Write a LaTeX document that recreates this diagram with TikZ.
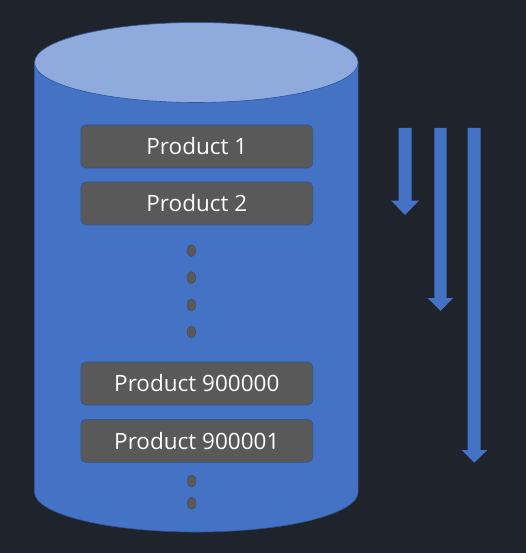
\documentclass[tikz,border=0pt]{standalone}
\usepackage{fontspec}
\setmainfont{Open Sans}
\usetikzlibrary{shapes.geometric}
\definecolor{bg}{HTML}{1F232C}
\definecolor{body}{HTML}{4472C4}
\definecolor{topc}{HTML}{8FAADC}
\definecolor{edge}{HTML}{2F5597}
\definecolor{boxc}{HTML}{595959}
\tikzset{
  prodbox/.style={draw=edge, line width=0.6pt, fill=boxc, rounded corners=5pt,
    minimum width=232pt, minimum height=43pt, inner sep=0pt,
    text=white, font=\fontsize{22.5}{26}\selectfont},
  dotmark/.style={ellipse, draw=boxc!80!black, line width=0.4pt, fill=boxc,
    minimum width=8.6pt, minimum height=12pt, inner sep=0pt},
  bigarrow/.style={fill=body, draw=none}
}
\begin{document}
\begin{tikzpicture}[x=1pt,y=-1pt]
\useasboundingbox (0,0) rectangle (526,553);
\fill[bg] (0,0) rectangle (526,553);
% cylinder body
\path[fill=body, draw=edge, line width=0.6pt]
  (34.5,62.5) -- (34.5,492) arc[start angle=180, end angle=360, x radius=161.8, y radius=-40]
  -- (358.1,62.5) -- cycle;
\node[ellipse, fill=topc, draw=edge, line width=0.6pt, minimum width=323.6pt, minimum height=80pt, inner sep=0pt] (top) at (196.3,62.5) {};
% products
\node[prodbox] (p1) at (196.8,146.5) {Product 1};
\node[prodbox] (p2) at (196.8,203.5) {Product 2};
\node[prodbox] (p3) at (196.8,383.5) {Product 900000};
\node[prodbox] (p4) at (196.8,440.8) {Product 900001};
% dots
\node[dotmark] (d1) at (191.3,250.7) {};
\node[dotmark] (d2) at (191.3,277.7) {};
\node[dotmark] (d3) at (191.3,305) {};
\node[dotmark] (d4) at (191.3,332) {};
\node[dotmark] (d5) at (191.7,481) {};
\node[dotmark] (d6) at (191.7,503.3) {};
% arrows
\fill[bigarrow] (398.5,128) -- (411.5,128) -- (411.5,200.5) -- (419,200.5) -- (405,215) -- (391,200.5) -- (398.5,200.5) -- cycle;
\fill[bigarrow] (434.3,128) -- (446.7,128) -- (446.7,298) -- (453,298) -- (440.5,311) -- (427.5,298) -- (434.3,298) -- cycle;
\fill[bigarrow] (467.7,128) -- (480.7,128) -- (480.7,450) -- (487.3,450) -- (474.2,462.7) -- (461.7,450) -- (467.7,450) -- cycle;
\end{tikzpicture}
\end{document}
